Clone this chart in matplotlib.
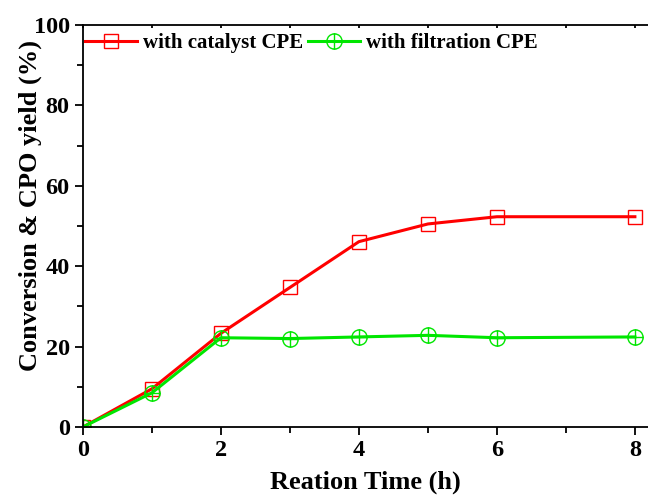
import matplotlib
matplotlib.use("Agg")
import matplotlib.pyplot as plt
from matplotlib.path import Path
from matplotlib.ticker import MultipleLocator

# Reaction data
time_h = [0, 1, 2, 3, 4, 5, 6, 8]
catalyst_cpe = [0, 9.5, 23.3, 34.7, 46.1, 50.5, 52.3, 52.3]
filtration_cpe = [0, 8.5, 22.2, 22.0, 22.4, 22.8, 22.2, 22.4]

series_labels = ["with catalyst CPE", "with filtration CPE"]
x_label = "Reation Time (h)"
y_label = "Conversion & CPO yield (%)"

plt.rcParams["font.family"] = ["Liberation Serif", "DejaVu Serif"]
plt.rcParams["font.weight"] = "bold"

# circle-with-cross marker
circ = Path.unit_circle()
hline = Path([[-1, 0], [1, 0]], [Path.MOVETO, Path.LINETO])
vline = Path([[0, -1], [0, 1]], [Path.MOVETO, Path.LINETO])
oplus = Path.make_compound_path(circ, hline, vline)

fig = plt.figure(figsize=(6.48, 4.99), dpi=100)
ax = fig.add_axes([0.128, 0.1443, 0.872, 0.8057])

red = "#ff0000"
green = "#00e600"

ax.plot(time_h, catalyst_cpe, color=red, lw=2.2, marker="s", ms=9.5,
        mfc="none", mec=red, mew=1.0, label=series_labels[0])
ax.plot(time_h, filtration_cpe, color=green, lw=2.2, marker=oplus, ms=11,
        mfc="none", mec=green, mew=1.0, label=series_labels[1])

ax.set_xlim(0, 8.19)
ax.set_ylim(0, 100)
ax.xaxis.set_major_locator(MultipleLocator(2))
ax.xaxis.set_minor_locator(MultipleLocator(1))
ax.yaxis.set_major_locator(MultipleLocator(20))
ax.yaxis.set_minor_locator(MultipleLocator(10))

ax.spines["right"].set_visible(False)
for s in ["left", "bottom", "top"]:
    ax.spines[s].set_linewidth(1.3)

ax.tick_params(which="major", direction="out", length=6, width=1.3,
               labelsize=17.5, pad=3.5)
ax.tick_params(which="minor", direction="out", length=4, width=1.3)
ax.tick_params(axis="x", which="both", top=True)
ax.tick_params(axis="y", which="both", right=False)
# small inward ticks on the top spine
for t in ax.xaxis.get_major_ticks() + ax.xaxis.get_minor_ticks():
    t.tick2line.set_marker(3)
    t.tick2line.set_markersize(2)

for lab in ax.get_xticklabels() + ax.get_yticklabels():
    lab.set_fontweight("bold")

ax.set_xlabel(x_label, fontsize=19, fontweight="bold", labelpad=7)
ax.set_ylabel(y_label, fontsize=19, fontweight="bold")
ax.yaxis.set_label_coords(-0.073, 0.551)

ax.legend(loc="upper left", bbox_to_anchor=(0.0, 0.985), ncol=2, frameon=False,
          handlelength=2.5, handletextpad=0.3, columnspacing=0.2,
          borderaxespad=0, borderpad=0.1, prop={"weight": "bold", "size": 15})

fig.savefig("out.png", dpi=100)
